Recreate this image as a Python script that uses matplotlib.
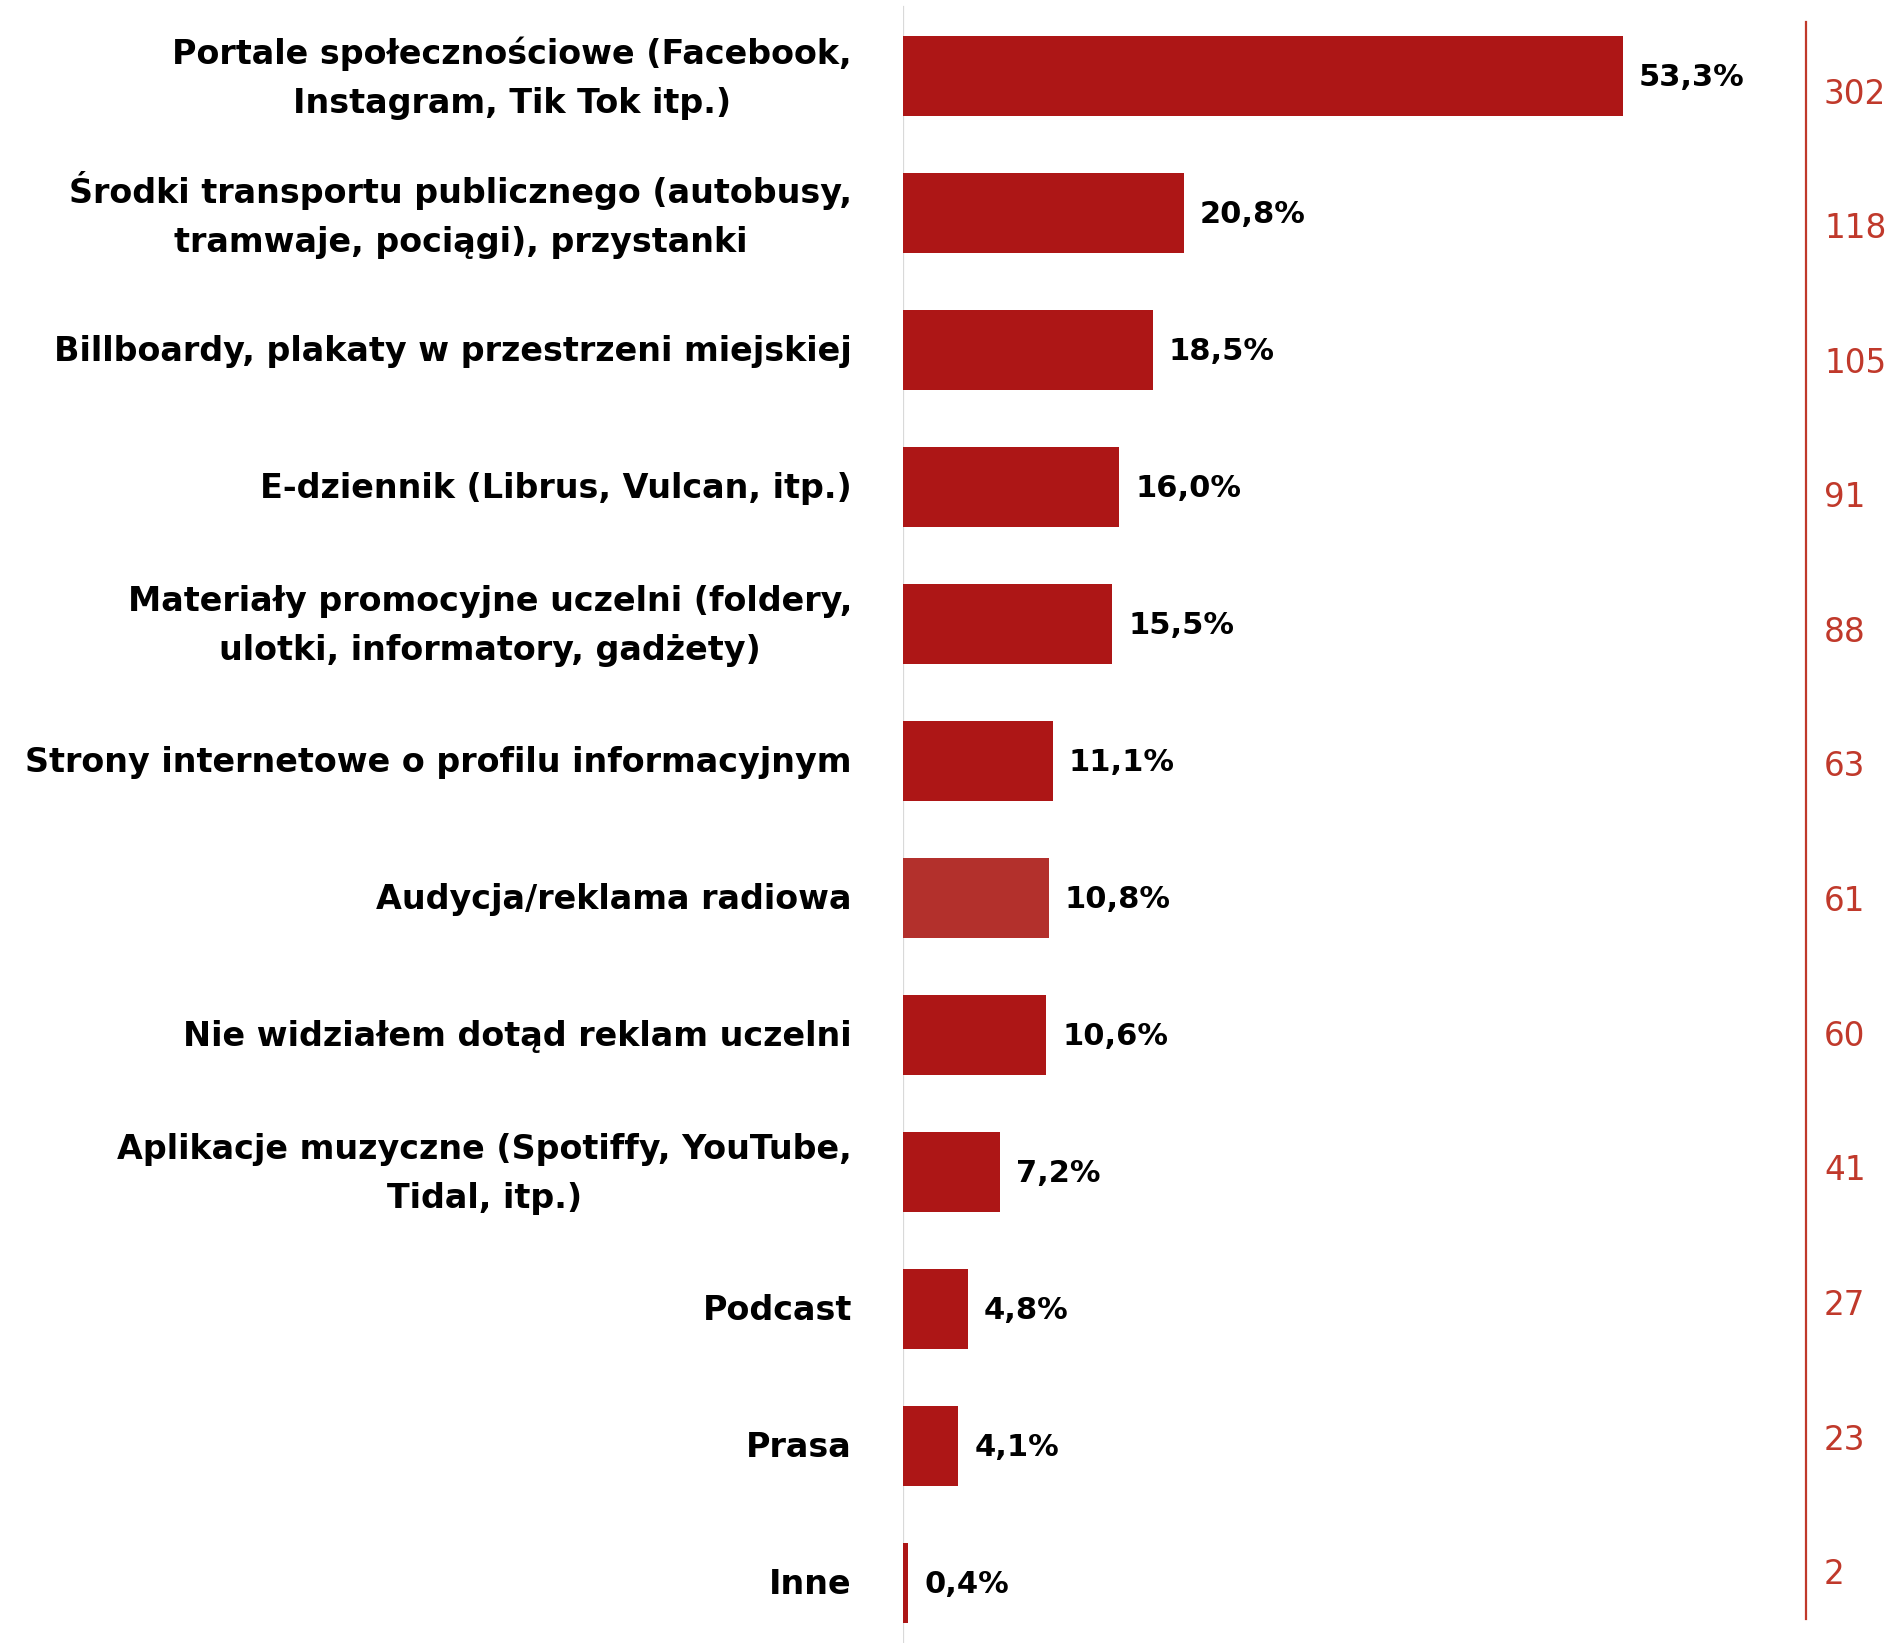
import matplotlib
matplotlib.use("Agg")
import matplotlib.pyplot as plt

categories = [
    "Portale społecznościowe (Facebook,\nInstagram, Tik Tok itp.)",
    "Środki transportu publicznego (autobusy,\ntramwaje, pociągi), przystanki",
    "Billboardy, plakaty w przestrzeni miejskiej",
    "E-dziennik (Librus, Vulcan, itp.)",
    "Materiały promocyjne uczelni (foldery,\nulotki, informatory, gadżety)",
    "Strony internetowe o profilu informacyjnym",
    "Audycja/reklama radiowa",
    "Nie widziałem dotąd reklam uczelni",
    "Aplikacje muzyczne (Spotiffy, YouTube,\nTidal, itp.)",
    "Podcast",
    "Prasa",
    "Inne",
]
percent = [53.3, 20.8, 18.5, 16.0, 15.5, 11.1, 10.8, 10.6, 7.2, 4.8, 4.1, 0.4]
counts = [302, 118, 105, 91, 88, 63, 61, 60, 41, 27, 23, 2]

bar_color = "#ad1616"
radio_color = "#b3302c"
count_color = "#c0392b"

W, H = 1890, 1643
fig = plt.figure(figsize=(W / 100, H / 100), dpi=100)

# main bar axes: gray left line at x=903 px, bar pitch 137 px
ax = fig.add_axes([903 / W, 0, (1806 - 903) / W, 1])
ax.set_xlim(0, 903 / 13.51)
ax.set_ylim((H - 76) / 137, -76 / 137)

colors = [radio_color if c.startswith("Audycja") else bar_color for c in categories]
ypos = list(range(len(categories)))
ax.barh(ypos, percent, height=0.58, color=colors, zorder=2)

for sp in ax.spines.values():
    sp.set_visible(False)
ax.set_xticks([])
ax.set_yticks([])
ax.axvline(0, ymin=0, ymax=0.996, color="#d9d9d9", lw=1.6, zorder=1)

for y, p in zip(ypos, percent):
    ax.annotate(f"{p:.1f}%".replace(".", ","), (p, y), xytext=(16, -2),
                textcoords="offset pixels", va="center", ha="left",
                fontsize=22, fontweight="bold", color="black")

for y, lab in zip(ypos, categories):
    ax.annotate(lab, (0, y), xytext=(-51, -2), textcoords="offset pixels",
                va="center", ha="right", multialignment="center",
                fontsize=24, fontweight="bold", color="black",
                linespacing=1.6, annotation_clip=False)

# right column with counts, pitch ~134.6 px
ax2 = fig.add_axes([1806 / W, 0, (W - 1806) / W, 1])
ax2.set_xlim(0, 1)
ax2.set_ylim((H - 90) / 134.6, -90 / 134.6)
for k, sp in ax2.spines.items():
    sp.set_visible(k == "left")
ax2.spines["left"].set_color(count_color)
ax2.spines["left"].set_linewidth(1.6)
ax2.spines["left"].set_bounds((22 - 90) / 134.6, (1619 - 90) / 134.6)
ax2.set_xticks([])
ax2.set_yticks([])
ax2.patch.set_visible(False)
for y, c in zip(ypos, counts):
    ax2.annotate(str(c), (0, y), xytext=(18, -4), textcoords="offset pixels",
                 va="center", ha="left", fontsize=23.5, color=count_color,
                 annotation_clip=False)

fig.savefig("out.png", dpi=100, facecolor="white")
